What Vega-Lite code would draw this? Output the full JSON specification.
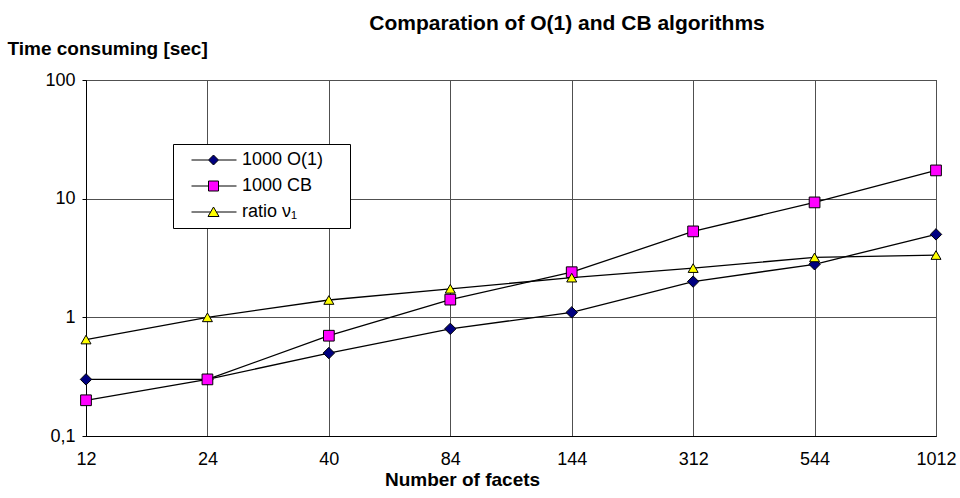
{
  "$schema": "https://vega.github.io/schema/vega-lite/v6.json",
  "width": 850,
  "height": 356,
  "autosize": {"type": "none"},
  "padding": {"left": 86, "top": 80, "right": 24, "bottom": 62},
  "background": "white",
  "title": {"text": "Comparation of O(1) and CB algorithms", "font": "Liberation Sans", "fontSize": 21, "fontWeight": "bold", "color": "black", "anchor": "middle", "frame": "group", "dx": 56, "baseline": "alphabetic", "offset": -12},
  "config": {"view": {"stroke": "black", "strokeWidth": 1}, "font": "Liberation Sans"},
  "data": {"values": [
    {"facets": "12", "series": "1000 O(1)", "value": 0.3},
    {"facets": "24", "series": "1000 O(1)", "value": 0.3},
    {"facets": "40", "series": "1000 O(1)", "value": 0.5},
    {"facets": "84", "series": "1000 O(1)", "value": 0.8},
    {"facets": "144", "series": "1000 O(1)", "value": 1.1},
    {"facets": "312", "series": "1000 O(1)", "value": 2.0},
    {"facets": "544", "series": "1000 O(1)", "value": 2.8},
    {"facets": "1012", "series": "1000 O(1)", "value": 5.0},
    {"facets": "12", "series": "1000 CB", "value": 0.2},
    {"facets": "24", "series": "1000 CB", "value": 0.3},
    {"facets": "40", "series": "1000 CB", "value": 0.7},
    {"facets": "84", "series": "1000 CB", "value": 1.41},
    {"facets": "144", "series": "1000 CB", "value": 2.4},
    {"facets": "312", "series": "1000 CB", "value": 5.3},
    {"facets": "544", "series": "1000 CB", "value": 9.3},
    {"facets": "1012", "series": "1000 CB", "value": 17.3},
    {"facets": "12", "series": "ratio ν₁", "value": 0.65},
    {"facets": "24", "series": "ratio ν₁", "value": 1.0},
    {"facets": "40", "series": "ratio ν₁", "value": 1.4},
    {"facets": "84", "series": "ratio ν₁", "value": 1.74},
    {"facets": "144", "series": "ratio ν₁", "value": 2.16},
    {"facets": "312", "series": "ratio ν₁", "value": 2.6},
    {"facets": "544", "series": "ratio ν₁", "value": 3.2},
    {"facets": "1012", "series": "ratio ν₁", "value": 3.35}
  ]},
  "encoding": {
    "x": {"field": "facets", "type": "ordinal", "sort": ["12", "24", "40", "84", "144", "312", "544", "1012"],
      "scale": {"type": "point", "padding": 0},
      "axis": {"title": "Number of facets", "titleX": 376, "titleY": 49, "titleAlign": "center", "titleBaseline": "alphabetic", "titleFont": "Liberation Sans", "titleFontSize": 19, "titleFontWeight": "bold", "titleColor": "black",
        "labelAngle": 0, "labelFont": "Liberation Sans", "labelFontSize": 18, "labelColor": "black", "labelPadding": 14, "ticks": false, "domainColor": "black", "grid": true, "gridColor": "#505050", "gridOpacity": 1}},
    "y": {"field": "value", "type": "quantitative",
      "scale": {"type": "log", "domain": [0.1, 100]},
      "axis": {"values": [0.1, 1, 10, 100], "labelExpr": "datum.value < 0.5 ? '0,1' : format(datum.value, 'd')",
        "title": "Time consuming [sec]", "titleAngle": 0, "titleAlign": "left", "titleBaseline": "alphabetic", "titleX": -79, "titleY": -26, "titleFont": "Liberation Sans", "titleFontSize": 19, "titleFontWeight": "bold", "titleColor": "black",
        "labelFont": "Liberation Sans", "labelFontSize": 18, "labelColor": "black", "labelPadding": 7, "tickSize": 4, "tickColor": "black", "domainColor": "black", "grid": true, "gridColor": "#505050", "gridOpacity": 1}}
  },
  "layer": [
    {"mark": {"type": "line", "color": "black", "strokeWidth": 1.3},
     "encoding": {"detail": {"field": "series"}}},
    {"mark": {"type": "point", "filled": true, "stroke": "black", "strokeWidth": 1, "opacity": 1},
     "encoding": {
       "shape": {"field": "series", "scale": {"domain": ["1000 O(1)", "1000 CB", "ratio ν₁"], "range": ["diamond", "square", "triangle-up"]}, "legend": null},
       "fill": {"field": "series", "scale": {"domain": ["1000 O(1)", "1000 CB", "ratio ν₁"], "range": ["#000080", "#FF00FF", "#FFFF00"]}, "legend": null},
       "size": {"field": "series", "scale": {"domain": ["1000 O(1)", "1000 CB", "ratio ν₁"], "range": [130, 100, 100]}, "legend": null}
     }},
    {"transform": [{"filter": "datum.value < 0"}],
     "mark": {"type": "point", "filled": true, "strokeWidth": 1, "size": 100, "opacity": 1},
     "encoding": {
       "shape": {"field": "series", "scale": {"domain": ["1000 O(1)", "1000 CB", "ratio ν₁"], "range": ["M0.5,0H3.9M5.9,0H9.5M4.9,-1L5.9,0L4.9,1L3.9,0Z", "M0.5,0H3.9M5.9,0H9.5M3.9,-1H5.9V1H3.9Z", "M0.5,0H4.3M5.5,0H9.5M4.9,-1L6,0.9H3.8Z"]},
         "legend": {"title": "\u00a0", "titleOrient": "right", "titlePadding": 20, "titleFontSize": 18, "orient": "none", "legendX": 87, "legendY": 64, "padding": 7, "strokeColor": "black", "fillColor": "white", "labelFont": "Liberation Sans", "labelFontSize": 18, "labelColor": "black", "labelOffset": 44, "rowPadding": 8, "symbolSize": 100, "symbolStrokeWidth": 1}},
       "fill": {"field": "series", "scale": {"domain": ["1000 O(1)", "1000 CB", "ratio ν₁"], "range": ["#000080", "#FF00FF", "#FFFF00"]},
         "legend": {"title": "\u00a0", "titleOrient": "right", "titlePadding": 20, "titleFontSize": 18, "orient": "none", "legendX": 87, "legendY": 64, "padding": 7, "strokeColor": "black", "fillColor": "white", "labelFont": "Liberation Sans", "labelFontSize": 18, "labelColor": "black", "labelOffset": 44, "rowPadding": 8, "symbolSize": 100, "symbolStrokeWidth": 1}},
       "stroke": {"field": "series", "scale": {"domain": ["1000 O(1)", "1000 CB", "ratio ν₁"], "range": ["black", "black", "black"]},
         "legend": {"title": "\u00a0", "titleOrient": "right", "titlePadding": 20, "titleFontSize": 18, "orient": "none", "legendX": 87, "legendY": 64, "padding": 7, "strokeColor": "black", "fillColor": "white", "labelFont": "Liberation Sans", "labelFontSize": 18, "labelColor": "black", "labelOffset": 44, "rowPadding": 8, "symbolSize": 100, "symbolStrokeWidth": 1}}
     }}
  ],
  "resolve": {"scale": {"shape": "independent", "fill": "independent", "size": "independent", "stroke": "independent"}}
}
